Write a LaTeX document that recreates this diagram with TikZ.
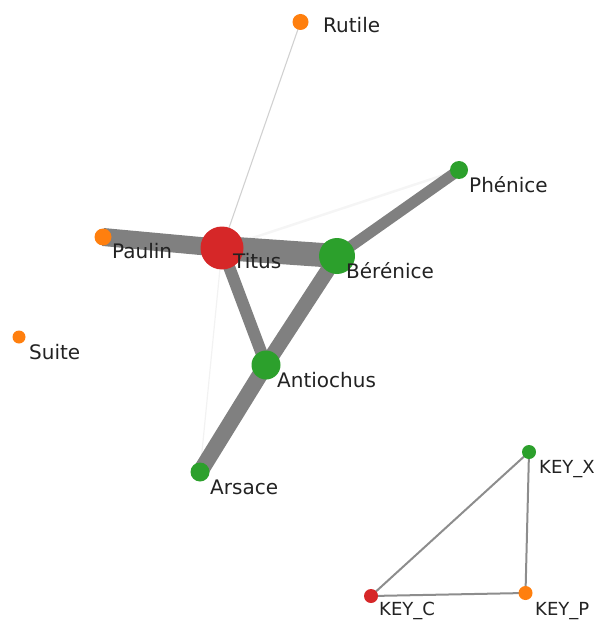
\documentclass[tikz,border=0pt]{standalone}
\usepackage{fontspec}
\setmainfont{DejaVu Sans}
\definecolor{nred}{HTML}{D62728}
\definecolor{ngreen}{HTML}{2CA02C}
\definecolor{norange}{HTML}{FF7F0E}
\definecolor{edgegray}{HTML}{808080}
\definecolor{txt}{HTML}{222222}
\begin{document}
\begin{tikzpicture}[x=1pt,y=-1pt,
  vert/.style={circle,inner sep=0pt,minimum size=#1,draw=none},
  red/.style={vert=#1,fill=nred},
  grn/.style={vert=#1,fill=ngreen},
  org/.style={vert=#1,fill=norange},
  lbl/.style={anchor=base west,inner sep=0pt,text=txt,font=\fontsize{20}{22}\selectfont},
  klbl/.style={anchor=base west,inner sep=0pt,text=txt,font=\fontsize{18}{20}\selectfont},
  edge/.style={draw=edgegray,line width=#1},
  kedge/.style={draw=edgegray!90,line width=2pt}]
\useasboundingbox (0,0) rectangle (605,620);
% node positions
\coordinate (pRutile) at (300.5,22);
\coordinate (pTitus) at (222,248);
\coordinate (pPaulin) at (103,237);
\coordinate (pBer) at (337,256);
\coordinate (pPhe) at (459,170);
\coordinate (pAnt) at (266,365);
\coordinate (pArs) at (200,472);
\coordinate (pSuite) at (19,337);
\coordinate (pKX) at (529,452);
\coordinate (pKP) at (525.5,593);
\coordinate (pKC) at (371,596);
% faint edges
\draw[draw=black!18,line width=1.1pt] (pTitus) -- (pRutile);
\draw[draw=black!4,line width=2.5pt] (pTitus) -- (pPhe);
\draw[draw=black!5,line width=1.2pt] (pTitus) -- (pArs);
% heavy edges
\draw[edge=18pt] (pPaulin) -- (pTitus);
\draw[edge=24pt] (pTitus) -- (pBer);
\draw[edge=11pt] (pBer) -- (pPhe);
\draw[edge=12pt] (pTitus) -- (pAnt);
\draw[edge=15pt] (pBer) -- (pAnt);
\draw[edge=16pt] (pAnt) -- (pArs);
% key edges
\draw[kedge] (pKC) -- (pKX);
\draw[kedge] (pKX) -- (pKP);
\draw[kedge] (pKP) -- (pKC);
% vertices
\node[org=16pt] (Rutile) at (pRutile) {};
\node[red=43pt] (Titus) at (pTitus) {};
\node[org=17pt] (Paulin) at (pPaulin) {};
\node[grn=36pt] (Ber) at (pBer) {};
\node[grn=18pt] (Phe) at (pPhe) {};
\node[grn=29pt] (Ant) at (pAnt) {};
\node[grn=19pt] (Ars) at (pArs) {};
\node[org=13pt] (Suite) at (pSuite) {};
\node[grn=14pt] (KX) at (pKX) {};
\node[org=14pt] (KP) at (pKP) {};
\node[red=14pt] (KC) at (pKC) {};
% labels
\node[lbl] (lRutile) at (323,33) {Rutile};
\node[lbl] (lPaulin) at (112,258) {Paulin};
\node[lbl] (lTitus) at (233,268) {Titus};
\node[lbl] (lBer) at (346,278) {Bérénice};
\node[lbl] (lPhe) at (469,193) {Phénice};
\node[lbl] (lAnt) at (277,387) {Antiochus};
\node[lbl] (lArs) at (210,494) {Arsace};
\node[lbl] (lSuite) at (29,359) {Suite};
\node[klbl] (lKX) at (539,473) {KEY\_X};
\node[klbl] (lKP) at (535,615) {KEY\_P};
\node[klbl] (lKC) at (379,615.5) {KEY\_C};
\end{tikzpicture}
\end{document}
